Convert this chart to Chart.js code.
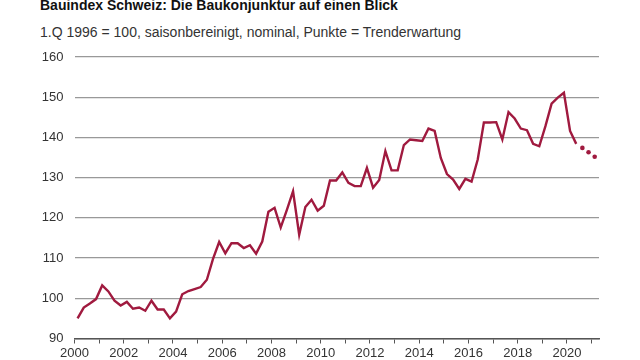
<!DOCTYPE html>
<html>
<head>
<meta charset="utf-8">
<script src="https://cdn.jsdelivr.net/npm/chart.js@4"></script>
<style>
	body { margin: 0; background: #fff; }
	#wrap { position: relative; width: 640px; height: 360px; overflow: hidden; }
	#title, #sub { position: absolute; left: 40px; line-height: 16px; font-family: "Liberation Sans", Arial, sans-serif; font-size: 14px; white-space: nowrap; }
	#title { top: -3.4px; font-weight: bold; color: #111; }
	#sub { top: 23.9px; color: #333; }
	canvas { position: absolute; left: 0; top: 0; }
</style>
</head>
<body>
<div id="wrap">
	<div id="title">Bauindex Schweiz: Die Baukonjunktur auf einen Blick</div>
	<div id="sub">1.Q 1996 = 100, saisonbereinigt, nominal, Punkte = Trenderwartung</div>
	<canvas id="bauChart" width="640" height="360"></canvas>
</div>
<script>
// quarterly index, 2000 Q1 .. 2020 Q2
const firstYear = 2000;
const bauindex = [
	95.0, 97.7, 98.7, 99.8, // 2000
	103.2, 101.7, 99.4, 98.2,
	99.1, 97.4, 97.7, 96.9,
	99.4, 97.2, 97.2, 95.0,
	96.7, 101.0, 101.8, 102.3, // 2004
	102.8, 104.6, 109.8, 114.0,
	111.2, 113.7, 113.7, 112.5,
	113.2, 111.1, 114.1, 121.5,
	122.5, 117.6, 122.0, 126.6, // 2008
	115.8, 122.7, 124.5, 121.8,
	123.0, 129.3, 129.3, 131.3,
	128.7, 127.9, 127.9, 132.4,
	127.5, 129.4, 136.6, 131.8, // 2012
	131.8, 138.1, 139.5, 139.3,
	139.1, 142.2, 141.6, 134.9,
	130.9, 129.5, 127.2, 129.7,
	129.0, 134.5, 143.7, 143.7, // 2016
	143.8, 139.5, 146.3, 144.7,
	142.2, 141.8, 138.4, 137.8,
	142.8, 148.4, 149.9, 151.1,
	141.6, 138.4 // 2020
];
// trend expectation (dots), 2020 Q3 .. 2021 Q1
const trend = [137.4, 136.3, 135.2];
const yTicks = [90, 100, 110, 120, 130, 140, 150, 160];
const xLabelYears = [2000, 2002, 2004, 2006, 2008, 2010, 2012, 2014, 2016, 2018, 2020];

const red = "#a01a3f";
const textFont = { family: "'Liberation Sans', Arial, sans-serif", size: 13 };

// mid-quarter positions
function toPoints(values, offset) {
	return values.map((v, i) => ({ x: firstYear + (offset + i + 0.5) / 4, y: v }));
}

new Chart(document.getElementById("bauChart"), {
	type: "line",
	data: {
		datasets: [
			{
				data: toPoints(bauindex, 0),
				borderColor: red,
				borderWidth: 2.4,
				pointRadius: 0,
				tension: 0,
			},
			{
				data: toPoints(trend, bauindex.length),
				showLine: false,
				pointRadius: 2.3,
				pointBackgroundColor: red,
				pointBorderWidth: 0,
			},
		],
	},
	options: {
		responsive: false,
		animation: false,
		layout: { padding: { top: 57, right: 41, bottom: 0, left: 0 } },
		plugins: { legend: { display: false }, tooltip: { enabled: false } },
		scales: {
			x: {
				type: "linear",
				min: 2000,
				max: 2021.3,
				afterFit: (s) => { s.height = 21.5; },
				ticks: {
					stepSize: 1,
					includeBounds: false,
					autoSkip: false,
					maxRotation: 0,
					padding: 2,
					color: "#333",
					font: textFont,
					callback: (v) => (xLabelYears.includes(v) ? String(v) : ""),
				},
				grid: { drawOnChartArea: false, drawTicks: true, tickLength: 5, color: "#555", lineWidth: 1 },
				border: { color: "#555", width: 1.5 },
			},
			y: {
				min: 90,
				max: 160,
				afterFit: (s) => { s.width = 74.5; },
				afterBuildTicks: (s) => { s.ticks = yTicks.map((v) => ({ value: v })); },
				ticks: { padding: 11, color: "#333", font: textFont },
				grid: { drawTicks: false, color: "#999", lineWidth: 1.3 },
				border: { display: false },
			},
		},
	},
});
</script>
</body>
</html>
